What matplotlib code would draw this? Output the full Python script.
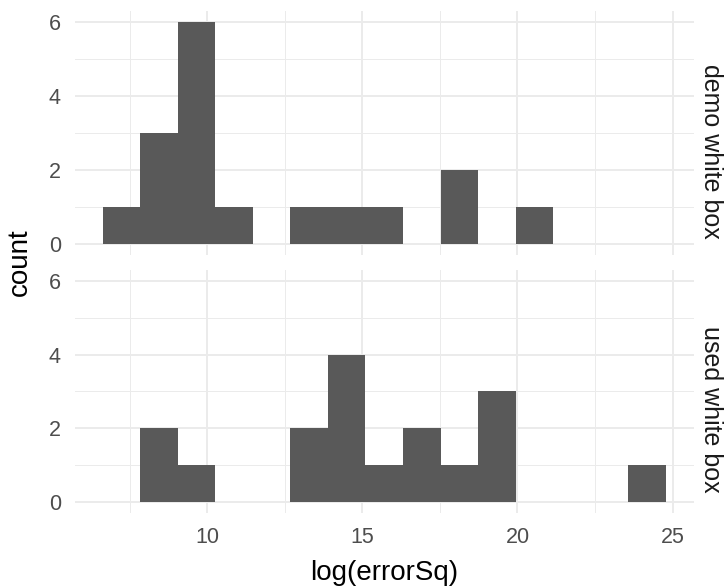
import matplotlib
matplotlib.use("Agg")
import matplotlib.pyplot as plt

plt.rcParams["font.family"] = ["Liberation Sans", "DejaVu Sans"]

# histogram bins of log(errorSq), 15 bins
bin_edges = [6.63, 7.84, 9.05, 10.26, 11.47, 12.68, 13.89, 15.10, 16.31,
             17.52, 18.73, 19.94, 21.15, 22.36, 23.57, 24.78]
demo_counts = [1, 3, 6, 1, 0, 1, 1, 1, 0, 2, 0, 1, 0, 0, 0]
used_counts = [0, 2, 1, 0, 0, 2, 4, 1, 2, 1, 3, 0, 0, 0, 1]
panels = ["demo white box", "used white box"]

x_major = [10, 15, 20, 25]
x_minor = [7.5, 12.5, 17.5, 22.5]
y_major = [0, 2, 4, 6]
y_minor = [1, 3, 5]

fig = plt.figure(figsize=(7.25, 5.88), dpi=100)
ax1 = fig.add_axes([0.103, 0.5667, 0.854, 0.4153])
ax2 = fig.add_axes([0.103, 0.1269, 0.854, 0.4146])

grid_col = "#EBEBEB"
bar_col = "#595959"
lo, hi = bin_edges[0], bin_edges[-1]
pad = (hi - lo) * 0.05

for ax, counts, label in zip([ax1, ax2], [demo_counts, used_counts], panels):
    widths = [b - a for a, b in zip(bin_edges[:-1], bin_edges[1:])]
    ax.bar(bin_edges[:-1], counts, width=widths, align="edge",
           color=bar_col, linewidth=0, zorder=3)
    ax.set_xlim(lo - pad, hi + pad)
    ax.set_ylim(-0.3, 6.3)
    ax.set_xticks(x_major)
    ax.set_xticks(x_minor, minor=True)
    ax.set_yticks(y_major)
    ax.set_yticks(y_minor, minor=True)
    ax.grid(which="major", color=grid_col, linewidth=1.4, zorder=0)
    ax.grid(which="minor", color=grid_col, linewidth=0.7, zorder=0)
    ax.tick_params(which="both", length=0, labelsize=15.5, labelcolor="#4D4D4D", pad=10)
    for s in ax.spines.values():
        s.set_visible(False)
    ax.text(1.027, 0.425, label, transform=ax.transAxes, rotation=-90,
            ha="center", va="center", fontsize=18, color="#1A1A1A")

ax1.tick_params(axis="x", labelbottom=False)

fig.text(0.53, 0.0136, "log(errorSq)", ha="center", va="baseline", fontsize=20)
fig.text(0.045, 0.554, "count", ha="right", va="center", rotation=90, fontsize=20)

fig.savefig("out.png", dpi=100, facecolor="white")
